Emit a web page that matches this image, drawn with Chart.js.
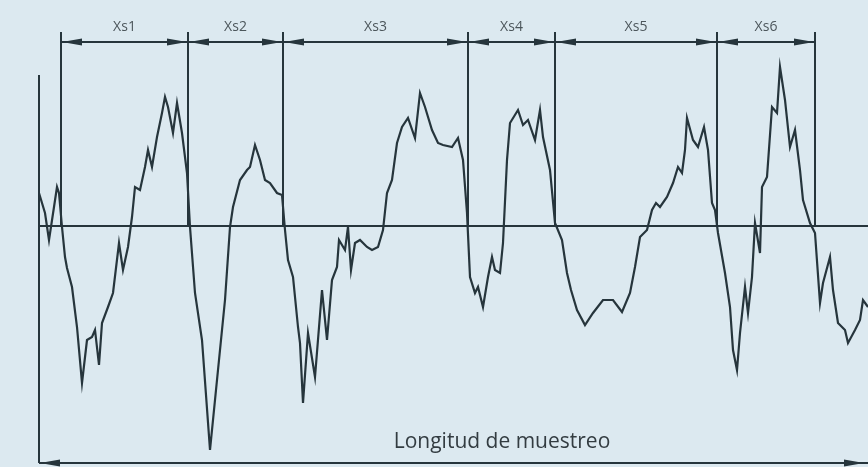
<!DOCTYPE html>
<html>
<head>
<meta charset="utf-8">
<script src="https://cdn.jsdelivr.net/npm/chart.js@4.4.1/dist/chart.umd.min.js"></script>
<style>
  body { margin: 0; background: #dce9f0; }
  #wrap { width: 868px; height: 467px; }
</style>
</head>
<body>
<div id="wrap"><canvas id="chart" width="868" height="467"></canvas></div>
<script>
// Profile: position along the sample, height above the mean line
const profileX = [39, 45, 49, 54, 57, 59, 62, 65, 67, 72, 77, 82, 87, 92, 95, 99, 102, 108, 113, 119,
  123, 128, 132, 135, 140, 145, 148, 152, 157, 162, 165, 168, 173, 177, 182, 187, 190, 195, 202, 210,
  217, 225, 230, 233, 240, 247, 250, 255, 260, 265, 270, 277, 282, 285, 288, 293, 298, 300, 303, 308,
  315, 322, 327, 332, 337, 339, 345, 348, 351, 355, 360, 367, 372, 378, 383, 387, 392, 397, 402, 408,
  415, 420, 425, 432, 438, 443, 452, 458, 463, 467, 470, 475, 478, 483, 488, 492, 495, 500, 503, 507,
  510, 518, 523, 528, 535, 540, 543, 550, 555, 562, 567, 571, 577, 585, 593, 603, 613, 622, 630, 635,
  640, 647, 652, 656, 660, 667, 673, 678, 682, 685, 687, 693, 698, 704, 708, 712, 715, 718, 725, 730,
  733, 737, 740, 745, 748, 752, 755, 760, 762, 767, 772, 777, 780, 785, 790, 795, 800, 803, 810, 815,
  820, 823, 830, 833, 838, 845, 848, 855, 860, 863, 868];
const profileY = [33, 13, -14, 19, 39, 33, -1, -31, -42, -61, -101, -157, -114, -111, -104, -139, -97, -81, -67, -17,
  -44, -21, 9, 39, 36, 59, 76, 59, 89, 113, 129, 119, 93, 123, 93, 53, -1, -67, -114, -224,
  -154, -74, -1, 19, 46, 56, 59, 81, 66, 46, 43, 33, 31, -4, -34, -51, -101, -117, -177, -107,
  -151, -64, -114, -54, -41, -14, -24, -1, -44, -17, -14, -21, -24, -21, -4, 33, 46, 83, 99, 108,
  88, 133, 119, 96, 83, 81, 79, 88, 66, 13, -51, -67, -61, -81, -51, -31, -44, -47, -17, 66,
  103, 116, 101, 106, 86, 116, 89, 56, 3, -14, -47, -64, -84, -99, -87, -74, -74, -86, -67, -41,
  -11, -4, 16, 23, 19, 29, 43, 59, 53, 76, 108, 86, 79, 99, 76, 23, 16, -7, -47, -81,
  -124, -144, -107, -61, -87, -51, 3, -27, 39, 49, 119, 113, 159, 126, 79, 96, 56, 26, 3, -7,
  -77, -57, -31, -64, -97, -104, -117, -104, -94, -74, -81];

// Section boundaries (Xs1..Xs6) and labels
const sectionBounds = [61, 188, 283, 468, 555, 717, 815];
const sectionLabels = ['Xs1', 'Xs2', 'Xs3', 'Xs4', 'Xs5', 'Xs6'];
const lengthLabel = 'Longitud de muestreo';

// Sampling length and frame levels
const sampleStart = 39;
const sampleEnd = 868;
const axisTop = 151;
const baseLevel = -237;
const boundTop = 194;
const dimLevel = 184;
const labelLevel = 199;
const lengthLabelLevel = -216;

const ink = '#26353c';

function seg(x1, y1, x2, y2) {
  return {
    data: [{ x: x1, y: y1 }, { x: x2, y: y2 }],
    borderColor: ink, borderWidth: 2, pointRadius: 0, tension: 0
  };
}

const datasets = [
  {
    data: profileX.map((x, i) => ({ x: x, y: profileY[i] })),
    borderColor: ink, borderWidth: 2.2, pointRadius: 0, tension: 0
  },
  seg(sampleStart, 0, sampleEnd, 0),
  seg(sampleStart, axisTop, sampleStart, baseLevel),
  seg(sampleStart, baseLevel, sampleEnd, baseLevel),
  seg(sectionBounds[0], dimLevel, sectionBounds[sectionBounds.length - 1], dimLevel)
];
sectionBounds.forEach(b => datasets.push(seg(b, 0, b, boundTop)));

// arrowheads and texts, placed through the scales
const annotate = {
  id: 'annotate',
  beforeDraw(chart) {
    const c = chart.ctx;
    c.save();
    c.fillStyle = '#dce9f0';
    c.fillRect(0, 0, chart.width, chart.height);
    c.restore();
  },
  afterDatasetsDraw(chart) {
    const c = chart.ctx, sx = chart.scales.x, sy = chart.scales.y;
    function arrow(x, y, dir) {
      c.beginPath();
      c.moveTo(x, y);
      c.lineTo(x + dir * 20, y - 3.5);
      c.lineTo(x + dir * 20, y + 3.5);
      c.closePath();
      c.fill();
    }
    c.save();
    c.fillStyle = ink;
    const yd = sy.getPixelForValue(dimLevel);
    for (let i = 0; i < sectionBounds.length - 1; i++) {
      arrow(sx.getPixelForValue(sectionBounds[i]) + 1, yd, 1);
      arrow(sx.getPixelForValue(sectionBounds[i + 1]) - 1, yd, -1);
    }
    const yb = sy.getPixelForValue(baseLevel);
    arrow(sx.getPixelForValue(sampleStart) + 1, yb, 1);
    arrow(sx.getPixelForValue(sampleEnd) - 4, yb, -1);

    c.fillStyle = '#4c565b';
    c.textAlign = 'center';
    c.textBaseline = 'middle';
    c.font = '14px "Open Sans"';
    const yl = sy.getPixelForValue(labelLevel);
    sectionLabels.forEach((t, i) => {
      const mid = (sectionBounds[i] + sectionBounds[i + 1]) / 2;
      c.fillText(t, sx.getPixelForValue(mid), yl);
    });
    c.fillStyle = '#333c41';
    c.font = '21px "Open Sans"';
    c.fillText(lengthLabel, sx.getPixelForValue(502), sy.getPixelForValue(lengthLabelLevel));
    c.restore();
  }
};

new Chart(document.getElementById('chart'), {
  type: 'line',
  data: { datasets: datasets },
  options: {
    responsive: false,
    animation: false,
    layout: { padding: 0 },
    plugins: { legend: { display: false }, tooltip: { enabled: false } },
    scales: {
      x: { type: 'linear', min: 0, max: 868, display: false },
      y: { type: 'linear', min: -241, max: 226, display: false }
    }
  },
  plugins: [annotate]
});
</script>
</body>
</html>
